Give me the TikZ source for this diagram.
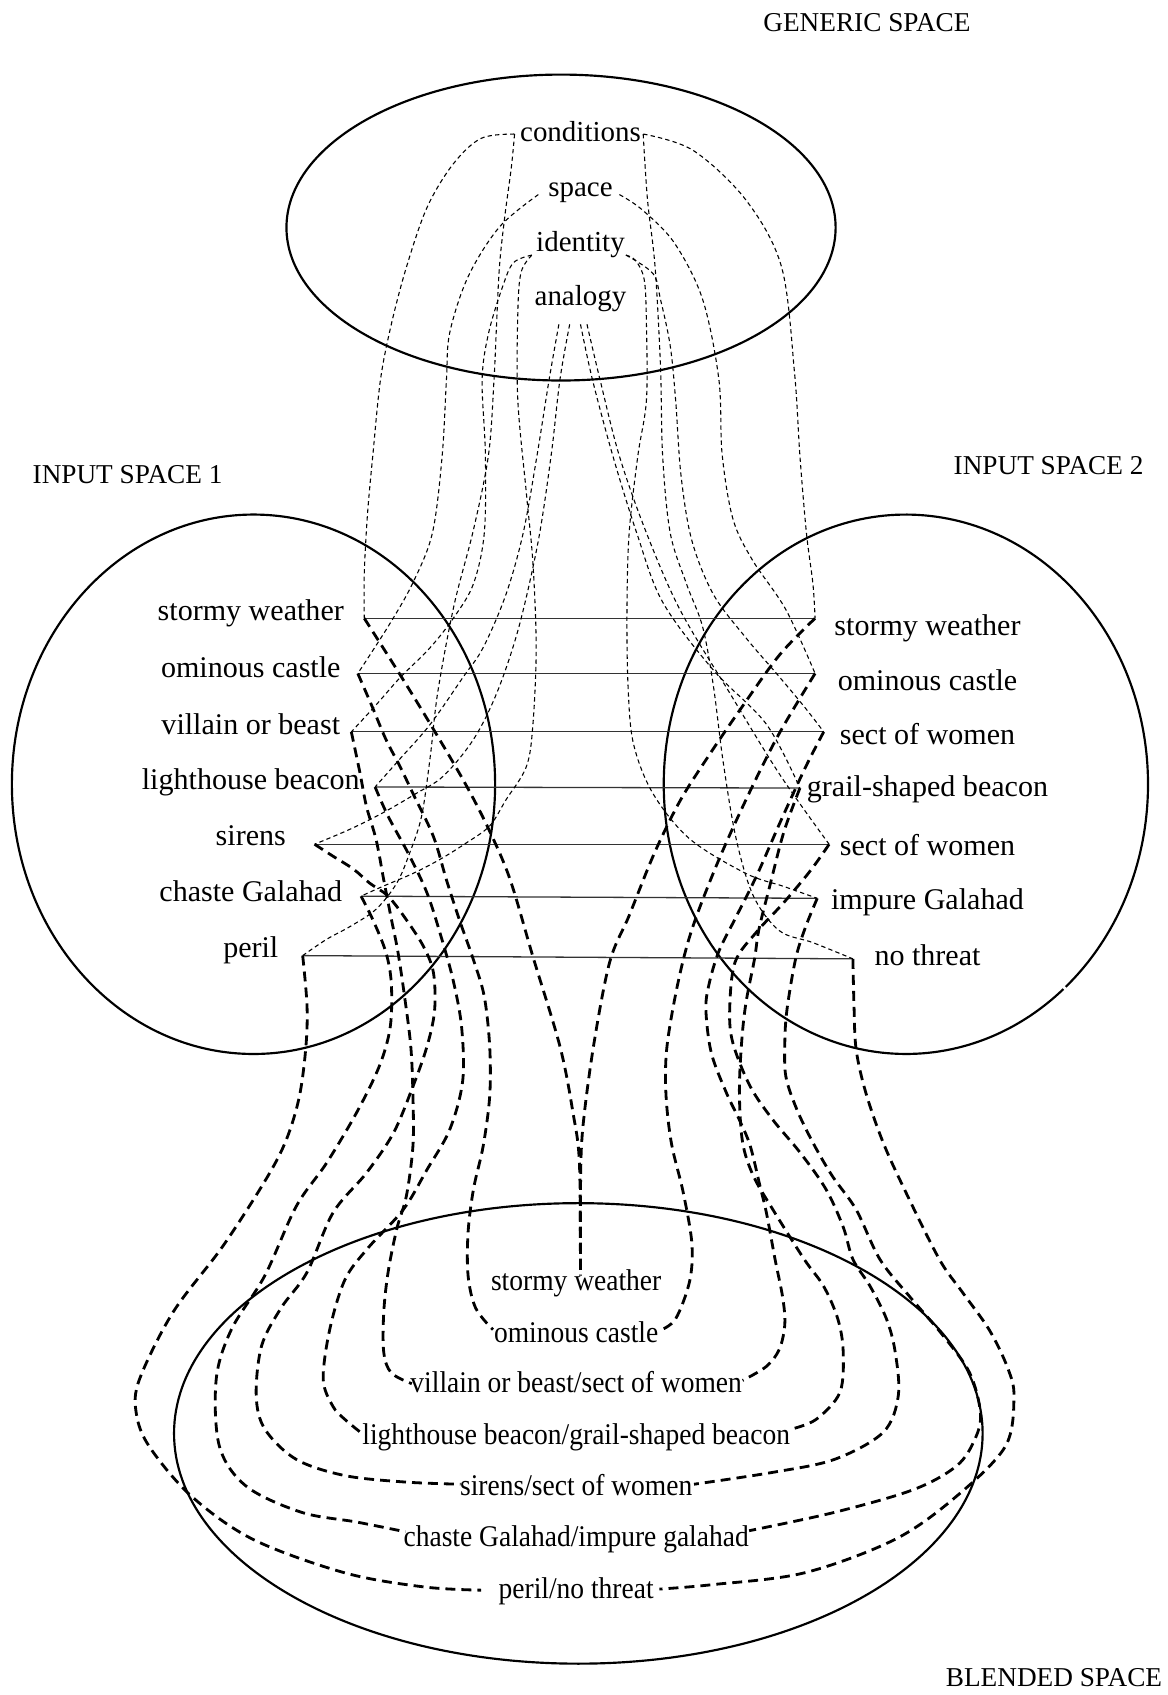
\documentclass[tikz,border=0pt]{standalone}
\usepackage{fontspec}
\setmainfont{Liberation Serif}
\newfontfamily\condfont[FakeStretch=0.915]{Liberation Serif}
\begin{document}
\begin{tikzpicture}[x=0.5pt,y=-0.5pt,
  lab/.style={anchor=base, inner sep=0pt, font=\fontsize{13.9}{16}\selectfont},
  gen/.style={anchor=base, inner sep=0pt, font=\fontsize{13.4}{16}\selectfont},
  blend/.style={anchor=base, inner sep=0pt, font=\condfont\fontsize{13.9}{16}\selectfont},
  ttl/.style={anchor=base, inner sep=0pt, font=\fontsize{12.6}{15}\selectfont},
  spaceline/.style={line width=1pt},
  pairline/.style={line width=0.6pt, black!80},
  thinmap/.style={line width=0.5pt, dash pattern=on 2pt off 1.5pt},
  thickmap/.style={line width=1.3pt, dash pattern=on 4.6pt off 2.8pt},
  sm/.style={smooth, tension=0.55}]
\fill[white] (0,0) rectangle (1080,1568);
\useasboundingbox (0,0) rectangle (1080,1568);

% ---------- spaces ----------
\draw[spaceline] (519,210.5) ellipse [x radius=254, y radius=141.5];
\draw[spaceline] (234.5,725.5) ellipse [x radius=223.5, y radius=249.5];
\draw[spaceline] ([shift={(49.4:224 and 249.5)}]838,725.5) arc [start angle=49.4, end angle=408.7, x radius=224, y radius=249.5];
\draw[spaceline] (535,1326) ellipse [x radius=374, y radius=213];

% ---------- titles ----------
\node[ttl] (tgen) at (802,29) {GENERIC SPACE};
\node[ttl] (tin1) at (118,447) {INPUT SPACE 1};
\node[ttl] (tin2) at (970,439) {INPUT SPACE 2};
\node[ttl] (tbl) at (975,1560) {BLENDED SPACE};

% ---------- generic space ----------
\node[gen] (gcond) at (537,131) {conditions};
\node[gen] (gspace) at (537,182) {space};
\node[gen] (gident) at (537,232.7) {identity};
\node[gen] (ganal) at (537,283) {analogy};
\coordinate (gcL) at (476,124);
\coordinate (gcR) at (595,124);
\coordinate (gsL) at (498,180);
\coordinate (gsR) at (573,180);
\coordinate (giL) at (492,236);
\coordinate (giR) at (579,236);
\coordinate (ga1) at (517,300);
\coordinate (ga2) at (527,300);
\coordinate (ga3) at (537,300);
\coordinate (ga4) at (543,300);

% ---------- input space 1 ----------
\node[lab] (i1a) at (232,574) {stormy weather};
\node[lab] (i1b) at (232,626.5) {ominous castle};
\node[lab] (i1c) at (232,679) {villain or beast};
\node[lab] (i1d) at (232,730) {lighthouse beacon};
\node[lab] (i1e) at (232,782) {sirens};
\node[lab] (i1f) at (232,834) {chaste Galahad};
\node[lab] (i1g) at (232,886) {peril};
\coordinate (L1) at (337,572);
\coordinate (L2) at (331,623);
\coordinate (L3) at (325,677);
\coordinate (L4) at (347,728);
\coordinate (L5) at (291,781);
\coordinate (L6) at (334,829);
\coordinate (L7) at (280,884);

% ---------- input space 2 ----------
\node[lab] (i2a) at (858,588) {stormy weather};
\node[lab] (i2b) at (858,639) {ominous castle};
\node[lab] (i2c) at (858,689) {sect of women};
\node[lab] (i2d) at (858,737) {grail-shaped beacon};
\node[lab] (i2e) at (858,791) {sect of women};
\node[lab] (i2f) at (858,841) {impure Galahad};
\node[lab] (i2g) at (858,893) {no threat};
\coordinate (R1) at (754,572);
\coordinate (R2) at (754,623);
\coordinate (R3) at (762,677);
\coordinate (R4) at (740,729);
\coordinate (R5) at (767,781);
\coordinate (R6) at (756,831);
\coordinate (R7) at (789,887);

% ---------- blended space ----------
\node[blend] (b1) at (533,1194) {stormy weather};
\node[blend] (b2) at (533,1241.5) {ominous castle};
\node[blend] (b3) at (533,1288) {villain or beast/sect of women};
\node[blend] (b4) at (533,1336) {lighthouse beacon/grail-shaped beacon};
\node[blend] (b5) at (533,1383) {sirens/sect of women};
\node[blend] (b6) at (533,1431) {chaste Galahad/impure galahad};
\node[blend] (b7) at (533,1479) {peril/no threat};
\coordinate (bsw) at (537,1180);
\coordinate (bcaL) at (456,1230);
\coordinate (bcaR) at (610,1231);
\coordinate (bviL) at (381,1280);
\coordinate (bviR) at (687,1277);
\coordinate (bliL) at (336,1327);
\coordinate (bliR) at (732,1322);
\coordinate (bsiL) at (426,1373);
\coordinate (bsiR) at (642,1373);
\coordinate (bchL) at (375,1417);
\coordinate (bchR) at (693,1416);
\coordinate (bpeL) at (445,1471);
\coordinate (bpeR) at (610,1470);

% ---------- counterpart connections ----------
\foreach \i in {1,...,7} \draw[pairline] (L\i) -- (R\i);

% ---------- generic -> input 1 ----------
\draw[thinmap] plot[sm] coordinates {(gcL) (445,128) (419,152) (395,192) (376,247) (362,300) (352,351) (345,420) (340,475) (337,530) (L1)};
\draw[thinmap] plot[sm] coordinates {(gsL) (462,210) (433,256) (416,308) (413,351) (409,422) (400,493) (382,539) (360,578) (L2)};
\draw[thinmap] plot[sm] coordinates {(giL) (475,243) (465,265) (452,308) (446,351) (449,420) (448,493) (438,540) (420,571) (398,599) (370,627) (348,652) (L3)};
\draw[thinmap] plot[sm] coordinates {(ga1) (508,351) (497,420) (484,493) (468,550) (447,599) (428,627) (398,670) (370,702) (L4)};
\draw[thinmap] plot[sm] coordinates {(ga2) (518,351) (510,420) (498,500) (480,580) (460,640) (438,684) (410,718) (385,734) (354,752) (324,767) (L5)};
\draw[thinmap] plot[sm] coordinates {(giL) (482,252) (479,290) (479,370) (487,457) (493,521) (496,599) (493,670) (487,709) (468,740) (453,764) (431,780) (407,795) (382,808) (354,820) (L6)};
\draw[thinmap] plot[sm] coordinates {(gcL) (473,155) (467,200) (462,247) (459,308) (457,351) (452,420) (438,490) (420,560) (405,640) (398,700) (390,755) (379,789) (367,817) (348,841) (324,857) (302,869) (L7)};

% ---------- generic -> input 2 ----------
\draw[thinmap] plot[sm] coordinates {(gcR) (641,139) (690,185) (723,247) (735,345) (740,422) (746,493) (752,540) (R1)};
\draw[thinmap] plot[sm] coordinates {(gsR) (594,194) (624,225) (650,277) (665,351) (668,420) (678,480) (696,518) (727,564) (R2)};
\draw[thinmap] plot[sm] coordinates {(giR) (604,253) (611,277) (620,320) (625,370) (630,440) (640,500) (660,550) (690,590) (720,625) (745,655) (R3)};
\draw[thinmap] plot[sm] coordinates {(ga3) (548,351) (567,422) (589,493) (613,557) (660,620) (709,670) (R4)};
\draw[thinmap] plot[sm] coordinates {(ga4) (555,351) (573,422) (598,493) (629,564) (675,641) (721,716) (R5)};
\draw[thinmap] plot[sm] coordinates {(giR) (588,241) (596,259) (598,300) (598,370) (590,422) (582,493) (580,564) (581,635) (586,688) (604,734) (638,776) (690,808) (725,820) (R6)};
\draw[thinmap] plot[sm] coordinates {(gcR) (599,185) (606,247) (611,339) (613,422) (620,493) (635,540) (650,580) (660,635) (669,705) (681,776) (697,829) (721,861) (752,872) (R7)};

% ---------- input 1 -> blend ----------
\draw[thickmap] plot[sm] coordinates {(L1) (370,624) (400,673) (431,726) (453,769) (472,814) (493,885) (518,968) (530,1029) (536,1076) (bsw)};
\draw[thickmap] plot[sm] coordinates {(L2) (344,653) (357,684) (370,709) (382,734) (401,774) (413,814) (425,851) (438,888) (448,922) (453,968) (453,1014) (447,1060) (438,1100) (433,1140) (433,1180) (440,1210) (bcaL)};
\draw[thickmap] plot[sm] coordinates {(L3) (333,715) (339,746) (348,777) (355,814) (362,850) (368,880) (374,920) (380,968) (382,1014) (382,1060) (376,1106) (367,1137) (359,1177) (355,1214) (355,1251) (362,1270) (bviL)};
\draw[thickmap] plot[sm] coordinates {(L4) (359,755) (379,792) (395,826) (407,863) (419,906) (427,950) (428,1000) (416,1045) (395,1082) (373,1119) (340,1155) (319,1184) (305,1230) (299,1276) (308,1301) (319,1313) (bliL)};
\draw[thickmap] plot[sm] coordinates {(L5) (308,792) (327,804) (342,817) (359,829) (376,851) (392,876) (401,900) (402,935) (395,968) (382,1005) (364,1048) (339,1085) (308,1122) (284,1177) (260,1210) (242,1245) (237,1291) (245,1322) (274,1350) (319,1365) (375,1371) (bsiL)};
\draw[thickmap] plot[sm] coordinates {(L6) (345,851) (357,881) (362,910) (361,950) (351,986) (330,1029) (302,1076) (274,1116) (245,1180) (214,1230) (200,1276) (203,1338) (228,1375) (279,1399) (330,1408) (bchL)};
\draw[thickmap] plot[sm] coordinates {(L7) (284,930) (283,968) (277,1014) (265,1054) (246,1091) (206,1153) (160,1214) (129,1276) (126,1307) (138,1338) (177,1384) (234,1424) (319,1455) (392,1468) (bpeL)};

% ---------- input 2 -> blend ----------
\draw[thickmap] plot[sm] coordinates {(R1) (721,606) (685,656) (655,700) (629,741) (605,790) (582,847) (564,890) (549,968) (539,1045) (537,1100) (bsw)};
\draw[thickmap] plot[sm] coordinates {(R2) (720,680) (690,740) (663,800) (640,860) (627,910) (617,968) (616,1011) (621,1057) (632,1103) (640,1150) (638,1185) (625,1220) (bcaR)};
\draw[thickmap] plot[sm] coordinates {(R3) (745,710) (722,760) (700,810) (680,850) (665,880) (656,910) (653,934) (658,974) (672,1011) (684,1036) (694,1060) (703,1097) (709,1122) (717,1165) (724,1200) (726,1225) (721,1248) (709,1264) (bviR)};
\draw[thickmap] plot[sm] coordinates {(R4) (725,770) (712,820) (702,860) (698,887) (690,928) (686,965) (684,1011) (687,1057) (697,1088) (715,1119) (744,1165) (762,1190) (775,1220) (780,1250) (777,1288) (755,1313) (bliR)};
\draw[thickmap] plot[sm] coordinates {(R5) (750,805) (725,835) (700,862) (680,890) (675,934) (678,965) (694,1005) (715,1036) (740,1066) (764,1100) (780,1135) (789,1165) (805,1190) (820,1220) (828,1250) (831,1291) (817,1325) (772,1350) (715,1362) (bsiR)};
\draw[thickmap] plot[sm] coordinates {(R6) (745,858) (736,887) (728,934) (726,965) (727,996) (737,1026) (752,1057) (770,1088) (792,1119) (814,1165) (842,1200) (872,1235) (897,1270) (907,1307) (902,1331) (885,1356) (845,1378) (772,1399) (bchR)};
\draw[thickmap] plot[sm] coordinates {(R7) (790,930) (792,971) (801,1011) (817,1057) (838,1103) (869,1165) (890,1195) (915,1230) (932,1265) (938,1292) (930,1338) (885,1384) (828,1424) (744,1455) (658,1466) (bpeR)};
\end{tikzpicture}
\end{document}
